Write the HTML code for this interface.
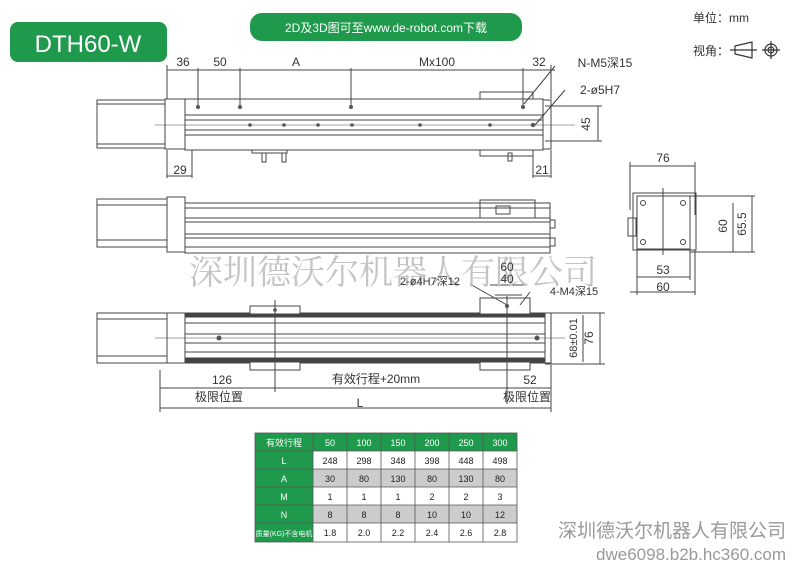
<!DOCTYPE html>
<html><head><meta charset="utf-8"><style>
body{margin:0;background:#fff;}
svg{display:block;font-family:"Liberation Sans","Noto Sans CJK SC",sans-serif;}
</style></head><body>
<svg width="792" height="567" viewBox="0 0 792 567" xmlns="http://www.w3.org/2000/svg">
<rect width="792" height="567" fill="#fff"/>
<!-- header -->
<rect x="10" y="22" width="157" height="40" rx="8" fill="#1f9a4c"/>
<text x="88" y="52" font-size="24" fill="#fff" text-anchor="middle">DTH60-W</text>
<rect x="250" y="13" width="272" height="28" rx="12" fill="#1f9a4c"/>
<text x="386" y="32" font-size="12" fill="#fff" text-anchor="middle">2D及3D图可至www.de-robot.com下载</text>
<text x="693" y="22" font-size="12" fill="#333">单位：mm</text>
<text x="693" y="55" font-size="12" fill="#333">视角：</text>
<g stroke="#333" fill="none" stroke-width="1.2"><path d="M735 46 L752 42 L752 58 L735 54 Z"/><line x1="730" y1="50" x2="757" y2="50"/><circle cx="771" cy="50" r="6"/><circle cx="771" cy="50" r="3"/><line x1="762" y1="50" x2="780" y2="50"/><line x1="771" y1="41" x2="771" y2="59"/></g>

<g stroke="#444" fill="none" stroke-width="1">
<!-- view 1 -->
<rect x="97" y="100" width="68" height="48"/><line x1="97" y1="104" x2="165" y2="104"/><line x1="97" y1="144" x2="165" y2="144"/>
<rect x="165" y="99" width="20" height="50"/>
<rect x="185" y="99" width="358" height="51"/>
<line x1="185" y1="115" x2="543" y2="115"/><line x1="185" y1="120" x2="543" y2="120"/><line x1="185" y1="130" x2="543" y2="130"/><line x1="185" y1="135" x2="543" y2="135"/>
<rect x="543" y="100" width="8" height="49"/>
<rect x="480" y="92" width="53" height="7"/><rect x="480" y="150" width="53" height="6"/>
<rect x="252" y="150" width="35" height="3"/><rect x="262" y="153" width="4" height="9"/><rect x="282" y="153" width="4" height="9"/><rect x="508" y="153" width="4" height="8"/>
<line x1="155" y1="125" x2="575" y2="125" stroke-width="0.6"/>
<!-- dims view1 -->
<line x1="167" y1="70" x2="555" y2="70"/>
<line x1="167" y1="65" x2="167" y2="99"/><line x1="198" y1="68" x2="198" y2="106"/><line x1="240" y1="68" x2="240" y2="106"/><line x1="351" y1="68" x2="351" y2="106"/><line x1="523" y1="68" x2="523" y2="106"/><line x1="551" y1="65" x2="551" y2="99"/>
<line x1="167" y1="150" x2="167" y2="178"/><line x1="192" y1="150" x2="192" y2="178"/><line x1="167" y1="176" x2="192" y2="176"/>
<line x1="533" y1="150" x2="533" y2="178"/><line x1="551" y1="150" x2="551" y2="178"/><line x1="533" y1="176" x2="551" y2="176"/>
<line x1="545" y1="106" x2="602" y2="106"/><line x1="545" y1="141" x2="602" y2="141"/><line x1="598" y1="106" x2="598" y2="141"/>
<line x1="524" y1="104" x2="555" y2="66"/><line x1="535" y1="125" x2="565" y2="90"/>
<!-- view 2 -->
<rect x="97" y="199" width="70" height="48"/><line x1="97" y1="205" x2="167" y2="205"/><line x1="97" y1="240" x2="167" y2="240"/>
<rect x="167" y="197" width="18" height="55"/>
<rect x="185" y="203" width="365" height="50"/>
<line x1="185" y1="208" x2="550" y2="208"/><line x1="185" y1="218" x2="550" y2="218"/><line x1="185" y1="222" x2="550" y2="222"/><line x1="185" y1="234" x2="550" y2="234"/><line x1="185" y1="238" x2="550" y2="238"/><line x1="185" y1="247" x2="550" y2="247"/>
<rect x="480" y="200" width="55" height="18"/><rect x="496" y="206" width="14" height="8"/>
<rect x="550" y="220" width="5" height="8"/><rect x="550" y="238" width="5" height="8"/>
<!-- view 3 -->
<rect x="97" y="313" width="70" height="50"/><line x1="97" y1="319" x2="167" y2="319"/><line x1="97" y1="356" x2="167" y2="356"/>
<rect x="167" y="313" width="18" height="50"/>
<rect x="185" y="313" width="360" height="50"/>
<rect x="185" y="313" width="360" height="4" fill="#444"/><rect x="185" y="358" width="360" height="4" fill="#444"/>
<line x1="185" y1="323" x2="545" y2="323"/><line x1="185" y1="334" x2="545" y2="334"/><line x1="185" y1="343" x2="545" y2="343"/><line x1="185" y1="352" x2="545" y2="352"/>
<rect x="545" y="313" width="6" height="50"/>
<rect x="250" y="306" width="50" height="8" fill="#fff"/><rect x="250" y="362" width="50" height="8" fill="#fff"/>
<rect x="480" y="298" width="50" height="16" fill="#fff"/><rect x="480" y="362" width="50" height="8" fill="#fff"/>
<line x1="155" y1="338" x2="565" y2="338" stroke-width="0.6"/>
<line x1="275" y1="300" x2="275" y2="392"/><line x1="507" y1="296" x2="507" y2="404"/>
<line x1="160" y1="388" x2="551" y2="388"/><line x1="160" y1="370" x2="160" y2="412"/><line x1="551" y1="365" x2="551" y2="412"/>
<line x1="160" y1="408" x2="551" y2="408"/>
<line x1="545" y1="313" x2="605" y2="313"/><line x1="545" y1="364" x2="605" y2="364"/><line x1="600" y1="313" x2="600" y2="364"/><line x1="583" y1="315" x2="583" y2="362"/>
<line x1="490" y1="285" x2="525" y2="285"/><line x1="495" y1="295" x2="522" y2="295"/>
<line x1="470" y1="284" x2="507" y2="305"/><line x1="530" y1="292" x2="520" y2="305"/>
<!-- end view -->
<rect x="637" y="196" width="53" height="53"/><rect x="633" y="193" width="63" height="57"/>
<rect x="628" y="218" width="8" height="18"/>
<circle cx="643" cy="203" r="2.5"/><circle cx="683" cy="203" r="2.5"/><circle cx="643" cy="242" r="2.5"/><circle cx="683" cy="242" r="2.5"/>
<line x1="663" y1="188" x2="663" y2="255"/>
<line x1="630" y1="166" x2="695" y2="166"/><line x1="630" y1="162" x2="630" y2="210"/><line x1="695" y1="162" x2="695" y2="215"/>
<line x1="690" y1="196" x2="755" y2="196"/><line x1="690" y1="252" x2="755" y2="252"/><line x1="733" y1="203" x2="733" y2="252"/><line x1="752" y1="196" x2="752" y2="252"/>
<line x1="637" y1="250" x2="637" y2="295"/><line x1="690" y1="250" x2="690" y2="280"/><line x1="695" y1="250" x2="695" y2="295"/>
<line x1="637" y1="277" x2="690" y2="277"/><line x1="630" y1="292" x2="695" y2="292"/>
</g>
<g fill="#555"><circle cx="198" cy="107" r="2"/><circle cx="240" cy="107" r="2"/><circle cx="351" cy="107" r="2"/><circle cx="523" cy="107" r="2"/><circle cx="250" cy="125" r="1.8"/><circle cx="284" cy="125" r="1.8"/><circle cx="318" cy="125" r="1.8"/><circle cx="352" cy="125" r="1.8"/><circle cx="420" cy="125" r="1.8"/><circle cx="490" cy="125" r="1.8"/><circle cx="533" cy="125" r="2.2"/><circle cx="219" cy="338" r="2.5"/><circle cx="537" cy="338" r="2.5"/><circle cx="275" cy="310" r="1.8"/><circle cx="507" cy="306" r="2"/></g>
<!-- watermark -->
<text x="393" y="284" font-size="34" fill="#c4c4c4" text-anchor="middle" font-family="'Noto Serif CJK SC',serif">深圳德沃尔机器人有限公司</text>
<g font-size="12" fill="#333" text-anchor="middle">
<text x="183" y="66">36</text><text x="220" y="66">50</text><text x="296" y="66">A</text><text x="437" y="66">Mx100</text><text x="539" y="66">32</text>
<text x="605" y="67">N-M5深15</text><text x="600" y="94">2-ø5H7</text>
<text x="180" y="174">29</text><text x="542" y="174">21</text>
<text x="590" y="124" transform="rotate(-90 590 124)">45</text>
<text x="507" y="271">60</text><text x="507" y="283">40</text>
<text x="430" y="285" font-size="11">2-ø4H7深12</text><text x="574" y="295" font-size="11">4-M4深15</text>
<text x="222" y="384">126</text><text x="376" y="383">有效行程+20mm</text><text x="530" y="384">52</text>
<text x="219" y="401">极限位置</text><text x="527" y="401">极限位置</text><text x="360" y="407">L</text>
<text x="577" y="338" transform="rotate(-90 577 338)" font-size="11">68±0.01</text><text x="593" y="338" transform="rotate(-90 593 338)">76</text>
<text x="663" y="162">76</text><text x="727" y="226" transform="rotate(-90 727 226)">60</text><text x="746" y="224" transform="rotate(-90 746 224)">65.5</text>
<text x="663" y="274">53</text><text x="663" y="291">60</text>
</g>
<!-- table -->
<g font-size="9" text-anchor="middle">
<rect x="255" y="433" width="262" height="18" fill="#1f9a4c"/>
<rect x="255" y="451" width="58" height="91" fill="#1f9a4c"/>
<rect x="313" y="451" width="204" height="18" fill="#fff"/><rect x="313" y="469" width="204" height="18" fill="#ccc"/><rect x="313" y="487" width="204" height="18" fill="#fff"/><rect x="313" y="505" width="204" height="18" fill="#ccc"/><rect x="313" y="523" width="204" height="19" fill="#fff"/>
<g stroke="#555" stroke-width="0.8"><line x1="255" y1="451" x2="517" y2="451"/><line x1="255" y1="469" x2="517" y2="469"/><line x1="255" y1="487" x2="517" y2="487"/><line x1="255" y1="505" x2="517" y2="505"/><line x1="255" y1="523" x2="517" y2="523"/><line x1="313" y1="433" x2="313" y2="542"/><line x1="347" y1="433" x2="347" y2="542"/><line x1="381" y1="433" x2="381" y2="542"/><line x1="415" y1="433" x2="415" y2="542"/><line x1="449" y1="433" x2="449" y2="542"/><line x1="483" y1="433" x2="483" y2="542"/><rect x="255" y="433" width="262" height="109" fill="none"/></g>
<g fill="#fff"><text x="284" y="446">有效行程</text><text x="330" y="446">50</text><text x="364" y="446">100</text><text x="398" y="446">150</text><text x="432" y="446">200</text><text x="466" y="446">250</text><text x="500" y="446">300</text>
<text x="284" y="464">L</text><text x="284" y="482">A</text><text x="284" y="500">M</text><text x="284" y="518">N</text><text x="284" y="536" font-size="7">质量(KG)不含电机</text></g>
<g fill="#222">
<text x="330" y="464">248</text><text x="364" y="464">298</text><text x="398" y="464">348</text><text x="432" y="464">398</text><text x="466" y="464">448</text><text x="500" y="464">498</text>
<text x="330" y="482">30</text><text x="364" y="482">80</text><text x="398" y="482">130</text><text x="432" y="482">80</text><text x="466" y="482">130</text><text x="500" y="482">80</text>
<text x="330" y="500">1</text><text x="364" y="500">1</text><text x="398" y="500">1</text><text x="432" y="500">2</text><text x="466" y="500">2</text><text x="500" y="500">3</text>
<text x="330" y="518">8</text><text x="364" y="518">8</text><text x="398" y="518">8</text><text x="432" y="518">10</text><text x="466" y="518">10</text><text x="500" y="518">12</text>
<text x="330" y="536">1.8</text><text x="364" y="536">2.0</text><text x="398" y="536">2.2</text><text x="432" y="536">2.4</text><text x="466" y="536">2.6</text><text x="500" y="536">2.8</text></g>
</g>
<text x="786" y="537" font-size="19" fill="#999" text-anchor="end">深圳德沃尔机器人有限公司</text>
<text x="786" y="560" font-size="17" fill="#999" text-anchor="end">dwe6098.b2b.hc360.com</text>
</svg>
</body></html>
